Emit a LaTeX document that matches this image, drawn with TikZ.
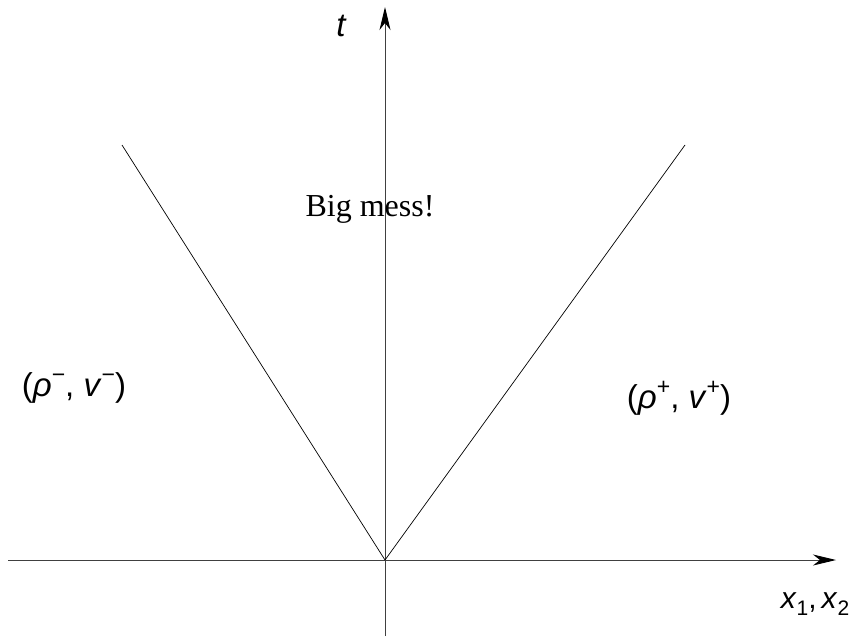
\documentclass[tikz,border=0pt]{standalone}
\usepackage{fontspec}
\setmainfont{Liberation Serif}
\newfontfamily\hv{Liberation Sans}
\usetikzlibrary{arrows.meta}
\newcommand{\supr}[1]{\raisebox{0.42em}{\fontsize{23}{23}\selectfont #1}}
\newcommand{\subr}[1]{\raisebox{-0.22em}{\fontsize{21}{21}\selectfont #1}}
\begin{document}
\begin{tikzpicture}[x=1pt,y=-1pt,
  axis/.style={line width=0.9pt,draw=black!75,-{Stealth[length=23pt,width=11pt,inset=7pt,black]}},
  ray/.style={line width=0.7pt,draw=black},
  lab/.style={font=\hv\fontsize{33}{36}\selectfont,inner sep=0pt},
  xlab/.style={font=\hv\fontsize{30}{34}\selectfont,inner sep=0pt},
  txt/.style={font=\fontsize{32}{36}\selectfont,inner sep=0pt}]
\useasboundingbox (0,0) rectangle (853,640);
\coordinate (O) at (385,560);
\coordinate (xl) at (8,560);
\coordinate (xr) at (836,560);
\coordinate (yb) at (385,636);
\coordinate (yt) at (385,7);
\coordinate (A) at (122,145);
\coordinate (B) at (685,145);
\draw[axis] (xl) -- (xr);
\draw[axis] (yb) -- (yt);
\draw[ray] (O) -- (A);
\draw[ray] (O) -- (B);
\node[lab] (t) at (341,26) {\itshape t};
\node[txt] (mess) at (370,209) {Big mess!};
\node[lab] (L) at (74,388) {(\textit{ρ}\supr{−}, \textit{v}\supr{−})};
\node[lab] (R) at (679,398) {(\textit{ρ}\supr{+}, \textit{v}\supr{+})};
\node[xlab] (X) at (815,604) {\textit{x}\subr{1},\,\textit{x}\subr{2}};
\end{tikzpicture}
\end{document}
